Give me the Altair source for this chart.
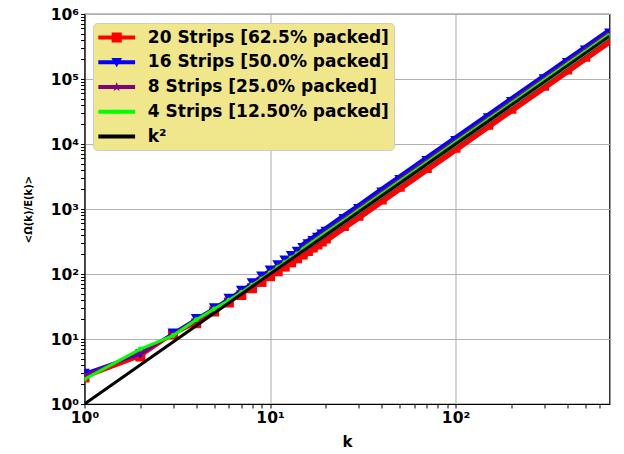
import math
import altair as alt
import pandas as pd

# ---------------- data ----------------
k_vals = [1, 2, 3, 4, 5, 6, 7, 8, 9, 10, 11, 12, 13, 14, 15, 16, 17, 18, 19, 20,
          25, 30, 40, 50, 70, 100, 150, 200, 300, 400, 500, 676]
strips20 = [2.55, 5.4, 11.8, 17.5, 26.5, 36.5, 47.5, 60.5, 75.5, 92.5, 110, 130, 151, 174, 199, 226,
            255, 285, 317, 351, 547, 788, 1400, 2190, 4290, 8750, 19700, 35000, 78800, 140000,
            219000, 400000]
strips16 = [2.95, 5.9, 12.3, 20.5, 30, 42, 56, 73, 93, 115, 138, 164, 192, 222, 255, 290,
            327, 367, 409, 454, 708, 1017, 1815, 2830, 5530, 11250, 25200, 44700, 100300, 178000,
            277500, 507000]
strips8 = [2.75, 6.2, 11.8, 19.5, 29, 40, 53, 69, 87, 108, 130, 154, 180, 208, 238, 271,
           305, 342, 381, 422, 659, 948, 1685, 2630, 5150, 10500, 23600, 42000, 94500, 168000,
           263000, 480000]
strips4 = [2.4, 7.0, 11.3, 19.8, 29, 39.5, 52, 67, 84, 104, 126, 150, 176, 204, 234, 266,
           300, 337, 375, 415, 643, 925, 1643, 2565, 5020, 10230, 23000, 40900, 92000, 163500,
           255500, 466000]
k2_k = [1, 676]
k2_v = [1, 456976]

names = ["20 Strips [62.5% packed]", "16 Strips [50.0% packed]",
         "8 Strips [25.0% packed]", "4 Strips [12.50% packed]", "k\u00b2"]
colors = ["#ff0000", "#0000ff", "#800080", "#00ff00", "#000000"]

x_major = [1, 10, 100]
x_minor = [2, 3, 4, 5, 6, 7, 8, 9, 20, 30, 40, 50, 60, 70, 80, 90, 200, 300, 400, 500, 600]
y_major = [1, 10, 100, 1000, 10000, 100000, 1000000]
y_minor = [m * d for d in [1, 10, 100, 1000, 10000, 100000] for m in range(2, 10)]

sid = {n: i for i, n in enumerate(names)}
rows = []
for name, vals in zip(names[:4], [strips20, strips16, strips8, strips4]):
    for kk, vv in zip(k_vals, vals):
        rows.append({"series": name, "sid": sid[name], "k": kk, "v": vv})
for kk, vv in zip(k2_k, k2_v):
    rows.append({"series": names[4], "sid": 4, "k": kk, "v": vv})
df = pd.DataFrame(rows)

# ---------------- styling ----------------
FONT = "DejaVu Sans"
sup = {1: "10\u2070", 10: "10\u00b9", 100: "10\u00b2", 1000: "10\u00b3",
       10000: "10\u2074", 100000: "10\u2075", 1000000: "10\u2076"}


def label_expr(majors):
    parts = [f"datum.value == {m} ? '{sup[m]}'" for m in majors]
    return " : ".join(parts) + " : ''"


def major_test(majors):
    return "indexof([" + ",".join(str(m) for m in majors) + "], datum.value) >= 0"


def make_axis(majors, minors, title_pad, orient_x):
    t = major_test(majors)
    return alt.Axis(
        values=majors + minors,
        labelExpr=label_expr(majors),
        labelOverlap=False,
        labelFlush=False,
        labelFont=FONT, labelFontSize=15.5, labelFontWeight="bold", labelColor="black",
        labelPadding=2,
        tickColor="black", tickSize=4, tickWidth=1,
        grid=True,
        gridColor="#b0b0b0", gridWidth=1.1,
        gridOpacity={"condition": {"test": t, "value": 1}, "value": 0},
        domainColor="black", domainWidth=1,
        titleFont=FONT, titleFontWeight="bold", titleColor="black",
        titleFontSize=15 if orient_x else 10,
        titlePadding=title_pad,
    )


xs = alt.Scale(type="log", domain=[1, 676], nice=False)
ys = alt.Scale(type="log", domain=[1, 1000000], nice=False)
X_ax = alt.X("k:Q", title="k", scale=xs, axis=make_axis(x_major, x_minor, 9, True))
Y_ax = alt.Y("v:Q", title="<\u03a9(k)/E(k)>", scale=ys, axis=make_axis(y_major, y_minor, 17, False))

base = alt.Chart(df)


def star_path(R, r):
    p = []
    for i in range(10):
        rad = R if i % 2 == 0 else r
        a = -math.pi / 2 + i * math.pi / 5
        p.append(f"{rad*math.cos(a):.3f},{rad*math.sin(a):.3f}")
    return "M" + " L".join(p) + " Z"


STAR_MARK = star_path(1.0, 0.4)

# legend symbols: line + marker as one custom path
LINE = "M-2,-0.22 H2 V0.22 H-2 Z"
sq = "M-0.55,-0.55 H0.55 V0.55 H-0.55 Z"
tri = "M-0.58,-0.45 L0.58,-0.45 L0,0.55 Z"
star = star_path(0.55, 0.22)
dot = "M0.24,0 A0.24,0.24 0 1,1 -0.24,0 A0.24,0.24 0 1,1 0.24,0 Z"
shapes = [LINE + " " + sq, LINE + " " + tri, LINE + " " + star, LINE + " " + dot, LINE]

legend_layer = base.transform_filter("datum.k < 0").mark_point(
    filled=True, opacity=1).encode(
    color=alt.Color("series:N", scale=alt.Scale(domain=names, range=colors),
                    legend=alt.Legend(title=None, orient="none", legendX=8.5, legendY=9,
                                      fillColor="#f0e68c", strokeColor="#cccccc",
                                      cornerRadius=4, padding=5,
                                      labelFont=FONT, labelFontSize=17,
                                      labelFontWeight="bold", labelColor="black",
                                      labelLimit=400,
                                      symbolSize=338, symbolOffset=9.2, labelOffset=21.6,
                                      rowPadding=6.75, symbolStrokeWidth=0,
                                      symbolOpacity=1)),
    shape=alt.Shape("series:N", scale=alt.Scale(domain=names, range=shapes)),
)


def series_layers(i, shape, size, lw, band_w):
    color = colors[i]
    b = base.transform_filter(alt.datum.sid == i)
    line = b.mark_line(color=color, strokeWidth=lw, clip=True).encode(order="k:Q")
    band = b.transform_filter(alt.datum.k >= 15).mark_line(
        color=color, strokeWidth=band_w, clip=True).encode(order="k:Q")
    pts = b.mark_point(shape=shape, filled=True, size=size, color=color, opacity=1,
                       strokeWidth=0, clip=True)
    return [line, band, pts]


layers = []
layers += series_layers(0, "square", 100, 3, 9)
layers += series_layers(1, "triangle-down", 115, 3, 9.5)
layers += series_layers(2, STAR_MARK, 75, 3, 7)
layers += series_layers(3, "circle", 24, 3, 5)
layers.append(base.transform_filter(alt.datum.sid == 4)
              .mark_line(color="black", strokeWidth=3, clip=True)
              .encode(order="k:Q"))
layers.append(legend_layer)

chart = alt.layer(*layers).encode(x=X_ax, y=Y_ax).properties(
    width=525, height=390,
    autosize=alt.AutoSizeParams(type="none"),
    padding={"left": 84.5, "top": 14, "right": 14.5, "bottom": 50},
    background="white",
).configure_view(stroke="black", strokeWidth=1.2)

chart.save("out.html", embed_options={"renderer": "svg", "actions": False})
